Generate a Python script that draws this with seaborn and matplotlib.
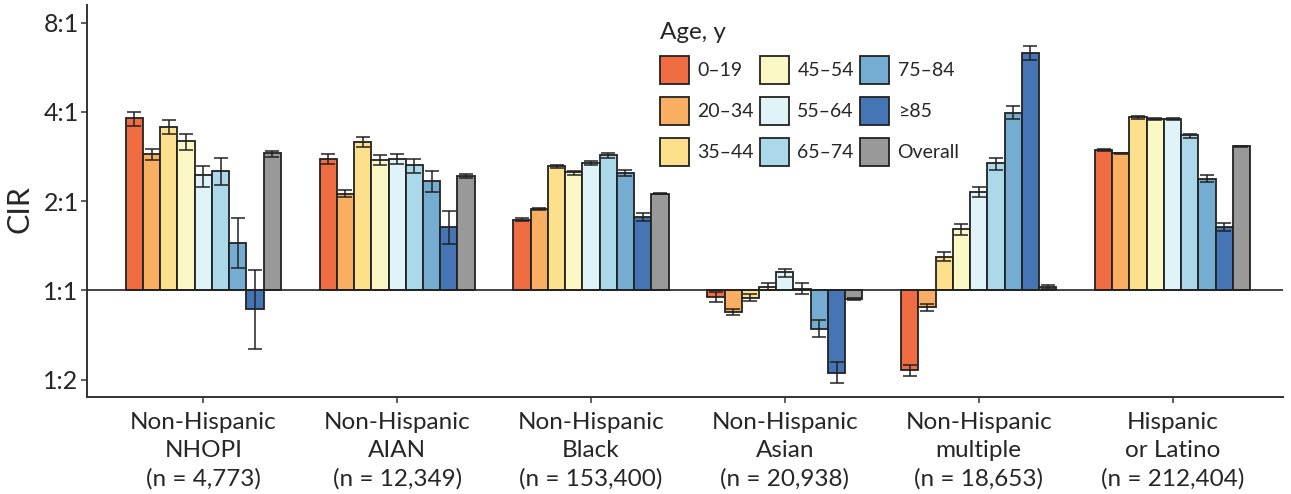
import numpy as np
import pandas as pd
import matplotlib
matplotlib.use("Agg")
import matplotlib.pyplot as plt
import seaborn as sns

# ---------------- data ----------------
age_groups = ["0–19", "20–34", "35–44", "45–54", "55–64", "65–74", "75–84", "≥85", "Overall"]
age_colors = ["#F06D43", "#F9AE61", "#FDE08B", "#FBF8C6", "#E0F3F8",
              "#ABD9E9", "#74ADD1", "#4575B4", "#999999"]
categories = [
    "Non-Hispanic\nNHOPI\n(n = 4,773)",
    "Non-Hispanic\nAIAN\n(n = 12,349)",
    "Non-Hispanic\nBlack\n(n = 153,400)",
    "Non-Hispanic\nAsian\n(n = 20,938)",
    "Non-Hispanic\nmultiple\n(n = 18,653)",
    "Hispanic\nor Latino\n(n = 212,404)",
]
ytick_values = [0.5, 1, 2, 4, 8]
ytick_labels = ["1:2", "1:1", "2:1", "4:1", "8:1"]

nhopi_cir = [3.80, 2.88, 3.55, 3.18, 2.44, 2.53, 1.45, 0.863, 2.91]
nhopi_lo = [3.58, 2.75, 3.36, 2.98, 2.23, 2.26, 1.19, 0.634, 2.82]
nhopi_hi = [4.01, 2.99, 3.74, 3.38, 2.63, 2.80, 1.76, 1.17, 2.95]

aian_cir = [2.78, 2.12, 3.17, 2.75, 2.77, 2.64, 2.33, 1.63, 2.43]
aian_lo = [2.66, 2.07, 3.05, 2.65, 2.66, 2.49, 2.14, 1.43, 2.40]
aian_hi = [2.88, 2.18, 3.28, 2.86, 2.88, 2.78, 2.53, 1.85, 2.47]

black_cir = [1.73, 1.88, 2.62, 2.50, 2.68, 2.86, 2.48, 1.77, 2.12]
black_lo = [1.71, 1.86, 2.59, 2.45, 2.64, 2.79, 2.43, 1.71, 2.11]
black_hi = [1.76, 1.90, 2.65, 2.53, 2.73, 2.90, 2.55, 1.82, 2.13]

asian_cir = [0.948, 0.844, 0.946, 1.027, 1.152, 1.014, 0.743, 0.528, 0.934]
asian_lo = [0.912, 0.827, 0.922, 1.00, 1.11, 0.973, 0.695, 0.487, 0.927]
asian_hi = [0.986, 0.864, 0.973, 1.06, 1.18, 1.06, 0.793, 0.575, 0.943]

multiple_cir = [0.537, 0.878, 1.30, 1.61, 2.15, 2.68, 3.97, 6.30, 1.025]
multiple_lo = [0.515, 0.853, 1.26, 1.54, 2.06, 2.54, 3.78, 5.98, 1.01]
multiple_hi = [0.560, 0.901, 1.35, 1.67, 2.24, 2.80, 4.18, 6.67, 1.04]

hispanic_cir = [2.98, 2.90, 3.84, 3.79, 3.79, 3.34, 2.38, 1.64, 3.06]
hispanic_lo = [2.95, 2.89, 3.79, 3.76, 3.76, 3.26, 2.32, 1.58, 3.05]
hispanic_hi = [2.99, 2.91, 3.87, 3.82, 3.82, 3.38, 2.44, 1.69, 3.07]

group_cir = [nhopi_cir, aian_cir, black_cir, asian_cir, multiple_cir, hispanic_cir]
group_lo = [nhopi_lo, aian_lo, black_lo, asian_lo, multiple_lo, hispanic_lo]
group_hi = [nhopi_hi, aian_hi, black_hi, asian_hi, multiple_hi, hispanic_hi]

rows = []
for cat, cv, lv, hv in zip(categories, group_cir, group_lo, group_hi):
    for age, c, l, h in zip(age_groups, cv, lv, hv):
        rows.append({"group": cat, "age": age, "cir": c, "lo": l, "hi": h})
df = pd.DataFrame(rows)
df["log2cir"] = np.log2(df["cir"])
df["log2lo"] = np.log2(df["lo"])
df["log2hi"] = np.log2(df["hi"])

# ---------------- plot ----------------
sns.set_style("white")
plt.rcParams["font.family"] = ["Lato", "DejaVu Sans"]

fig = plt.figure(figsize=(12.91, 4.94), dpi=100)
ax = fig.add_axes([0.0674, 0.1964, 0.9264, 0.7935])

sns.barplot(data=df, x="group", y="log2cir", hue="age", order=categories,
            hue_order=age_groups, palette=age_colors, saturation=1,
            edgecolor="#222222", linewidth=1.3, width=0.8, errorbar=None,
            legend=False, ax=ax, zorder=2)

bar_containers = list(ax.containers)
for i, cont in enumerate(bar_containers):
    sub = df[df["age"] == age_groups[i]].set_index("group").loc[categories]
    xs = [p.get_x() + p.get_width() / 2 for p in cont]
    y = sub["log2cir"].values
    ax.errorbar(xs, y, yerr=[y - sub["log2lo"].values, sub["log2hi"].values - y],
                fmt="none", ecolor="#222222", elinewidth=1.1, capsize=5,
                capthick=1.1, zorder=3)

ax.axhline(0, color="#222222", lw=1.2, zorder=4)

ax.set_xlim(-0.6, 5.57)
ax.set_ylim(np.log2(0.437), np.log2(9.17))
ax.set_yticks(np.log2(ytick_values))
ax.set_yticklabels(ytick_labels)
ax.set_xlabel("")
ax.set_ylabel("CIR", fontsize=22)
ax.yaxis.set_label_coords(-0.045, 0.48)

for s in ["top", "right"]:
    ax.spines[s].set_visible(False)
for s in ["left", "bottom"]:
    ax.spines[s].set_color("#333333")
    ax.spines[s].set_linewidth(1.4)

ax.tick_params(axis="y", labelsize=18, length=4, width=1.1, pad=2,
               color="#333333", left=True, direction="out")
ax.tick_params(axis="x", labelsize=17.5, length=4, width=1.1, pad=7,
               color="#333333", bottom=True, direction="out")
for t in ax.get_xticklabels():
    t.set_linespacing(1.4)

handles = [c.patches[0] for c in bar_containers]
leg = ax.legend(handles, age_groups, title="Age, y", ncol=3, frameon=False,
                loc="upper left", bbox_to_anchor=(650 / 1291, 1 - 12 / 494),
                bbox_transform=fig.transFigure, fontsize=14,
                title_fontsize=17.5, handlelength=1.5, handleheight=1.84,
                handletextpad=0.42, labelspacing=0.67, columnspacing=0.33,
                borderpad=0.0, alignment="left")

fig.savefig("out.png", dpi=100)
